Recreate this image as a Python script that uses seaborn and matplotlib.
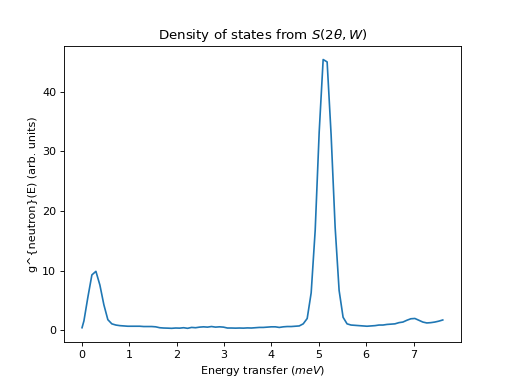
import matplotlib
matplotlib.use("Agg")
import matplotlib.pyplot as plt
import seaborn as sns
import pandas as pd

energy = [0.0, 0.04, 0.124, 0.208, 0.293, 0.377, 0.461, 0.545, 0.629, 0.714, 0.798,
          0.882, 0.966, 1.05, 1.135, 1.219, 1.303, 1.387, 1.471, 1.556, 1.64,
          1.724, 1.808, 1.892, 1.977, 2.061, 2.145, 2.229, 2.313, 2.398, 2.482,
          2.566, 2.65, 2.734, 2.819, 2.903, 2.987, 3.071, 3.155, 3.24, 3.324,
          3.408, 3.492, 3.576, 3.661, 3.745, 3.829, 3.913, 3.997, 4.082, 4.166,
          4.25, 4.334, 4.418, 4.503, 4.587, 4.671, 4.755, 4.839, 4.924, 5.008,
          5.092, 5.176, 5.26, 5.345, 5.429, 5.513, 5.597, 5.681, 5.766, 5.85,
          5.934, 6.018, 6.102, 6.187, 6.271, 6.355, 6.439, 6.523, 6.608, 6.692,
          6.776, 6.86, 6.944, 7.029, 7.113, 7.197, 7.281, 7.365, 7.45, 7.534, 7.618]

dos = [0.45, 1.6, 5.6, 9.3, 9.9, 7.6, 4.3, 1.8, 1.1, 0.9, 0.8,
       0.75, 0.7, 0.7, 0.7, 0.7, 0.65, 0.65, 0.65, 0.6, 0.45,
       0.4, 0.38, 0.35, 0.4, 0.38, 0.45, 0.35, 0.5, 0.45, 0.55,
       0.6, 0.55, 0.65, 0.55, 0.6, 0.55, 0.4, 0.4, 0.38, 0.4,
       0.38, 0.42, 0.4, 0.45, 0.5, 0.5, 0.55, 0.6, 0.6, 0.5,
       0.6, 0.65, 0.65, 0.7, 0.75, 1.1, 2.0, 6.3, 16.8, 33.2,
       45.4, 45.0, 32.8, 17.3, 6.7, 2.2, 1.1, 0.9, 0.85, 0.8,
       0.75, 0.7, 0.75, 0.8, 0.9, 0.9, 1.0, 1.05, 1.1, 1.3,
       1.4, 1.7, 1.95, 2.0, 1.7, 1.4, 1.25, 1.3, 1.4, 1.55, 1.75]

df = pd.DataFrame({"energy": energy, "dos": dos})

fig, ax = plt.subplots(figsize=(6.4, 4.8), dpi=80)
sns.lineplot(data=df, x="energy", y="dos", ax=ax, estimator=None, color="#1f77b4", linewidth=1.5)
ax.set_title(r"Density of states from $S(2\theta, W)$")
ax.set_xlabel(r"Energy transfer ($meV$)")
ax.set_ylabel("g^{neutron}(E) (arb. units)")
fig.savefig("out.png", dpi=80)
